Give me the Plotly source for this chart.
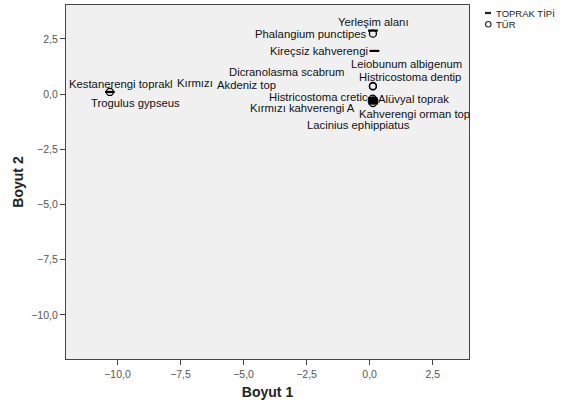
import plotly.graph_objects as go

# ---- data ----
soil_names = ["Yerleşim alanı", "Kireçsiz kahverengi", "Kestanerengi toprakl", "Kırmızı",
              "Akdeniz top", "Kırmızı kahverengi A", "Alüvyal toprak", "Kahverengi orman top"]
soil_x = [0.13, 0.19, -10.3, 0.12, 0.14, 0.12, 0.15, 0.14]
soil_y = [2.88, 1.96, 0.10, -0.18, -0.26, -0.34, -0.30, -0.42]

species_names = ["Phalangium punctipes", "Leiobunum albigenum", "Histricostoma dentip",
                 "Dicranolasma scabrum", "Histricostoma cretic", "Lacinius ephippiatus",
                 "Trogulus gypseus"]
species_x = [0.13, 0.13, 0.13, 0.12, 0.14, 0.13, -10.3]
species_y = [2.74, 0.37, 0.35, -0.20, -0.28, -0.40, 0.10]

x_ticks = [-10.0, -7.5, -5.0, -2.5, 0.0, 2.5]
y_ticks = [2.5, 0.0, -2.5, -5.0, -7.5, -10.0]

legend_labels = ["TOPRAK TİPİ", "TÜR"]

# label placement (pixel offsets from point: xanchor, xshift, yshift)
soil_lab = [("center", 1, 9), ("right", -4, 0), ("center", 11, 8), ("right", -158, 15),
            ("right", -95, 15), ("right", -16, -6), ("left", 3, 2), ("left", -16, -11)]
species_lab = [("right", -4, 0), ("left", -24, 22), ("left", -16, 9), ("right", -26, 27),
               ("right", -3, 3), ("center", -14, -22), ("center", 26, -11)]

FONT = "Liberation Sans, Arial, sans-serif"
W, H = 565, 406
ML, MR, MT, MB = 66, 96, 5, 47
PW, PH = W - ML - MR, H - MT - MB


def px2paper(px, py):
    return (px - ML) / PW, (H - MB - py) / PH


fig = go.Figure()
fig.add_trace(go.Scatter(
    x=soil_x, y=soil_y, mode="markers", name=legend_labels[0], showlegend=False,
    marker=dict(symbol="line-ew", size=7, color="black",
                line=dict(color="black", width=2.2)),
    hovertext=soil_names))
fig.add_trace(go.Scatter(
    x=species_x, y=species_y, mode="markers", name=legend_labels[1], showlegend=False,
    marker=dict(symbol="circle-open", size=7, color="black",
                line=dict(color="black", width=1.3)),
    hovertext=species_names))

ann = []
for names, xs, ys, labs in ((soil_names, soil_x, soil_y, soil_lab),
                            (species_names, species_x, species_y, species_lab)):
    for n, x, y, (anc, dx, dy) in zip(names, xs, ys, labs):
        ann.append(dict(x=x, y=y, text=n, showarrow=False, xanchor=anc, yanchor="middle",
                        xshift=dx, yshift=dy,
                        font=dict(family=FONT, size=11.3, color="#111")))

# custom legend (compact, as in the reference)
shapes = []
lx0, ly0 = px2paper(485, 13)
lx1, _ = px2paper(491, 13)
shapes.append(dict(type="line", xref="paper", yref="paper", x0=lx0, x1=lx1, y0=ly0, y1=ly0,
                   line=dict(color="#222", width=2.2)))
cx0, cy0 = px2paper(485.5, 21.5)
cx1, cy1 = px2paper(491, 27)
shapes.append(dict(type="circle", xref="paper", yref="paper", x0=cx0, x1=cx1, y0=cy0, y1=cy1,
                   line=dict(color="#222", width=1.1)))
for lab, py in zip(legend_labels, (13, 24)):
    tx, ty = px2paper(494, py)
    ann.append(dict(x=tx, y=ty, xref="paper", yref="paper", text=lab, showarrow=False,
                    xanchor="left", yanchor="middle",
                    font=dict(family=FONT, size=9.5, color="#222")))

fig.update_layout(
    width=W, height=H,
    margin=dict(l=ML, r=MR, t=MT, b=MB),
    paper_bgcolor="white", plot_bgcolor="#f0f0f0",
    separators=", ",
    font=dict(family=FONT, size=11, color="#444"),
    annotations=ann, shapes=shapes,
    showlegend=False,
    xaxis=dict(range=[-12.04, 3.94], tickvals=x_ticks, tickformat=".1f",
               showgrid=False, zeroline=False, showline=True, mirror=True,
               linecolor="#444", linewidth=1.2, ticks="outside", ticklen=5,
               tickcolor="#444", tickfont=dict(family=FONT, size=10.5, color="#555"),
               title=dict(text="<b>Boyut 1</b>", standoff=8,
                          font=dict(family=FONT, size=14, color="#222"))),
    yaxis=dict(range=[-12.0, 4.04], tickvals=y_ticks, tickformat=".1f",
               showgrid=False, zeroline=False, showline=True, mirror=True,
               linecolor="#444", linewidth=1.2, ticks="outside", ticklen=5,
               tickcolor="#444", tickfont=dict(family=FONT, size=10.5, color="#555"),
               title=dict(text="<b>Boyut 2</b>", standoff=4,
                          font=dict(family=FONT, size=14, color="#222"))),
)

fig.write_html("out.html", config={"displayModeBar": False},
               post_script="document.body.style.margin='0';")
